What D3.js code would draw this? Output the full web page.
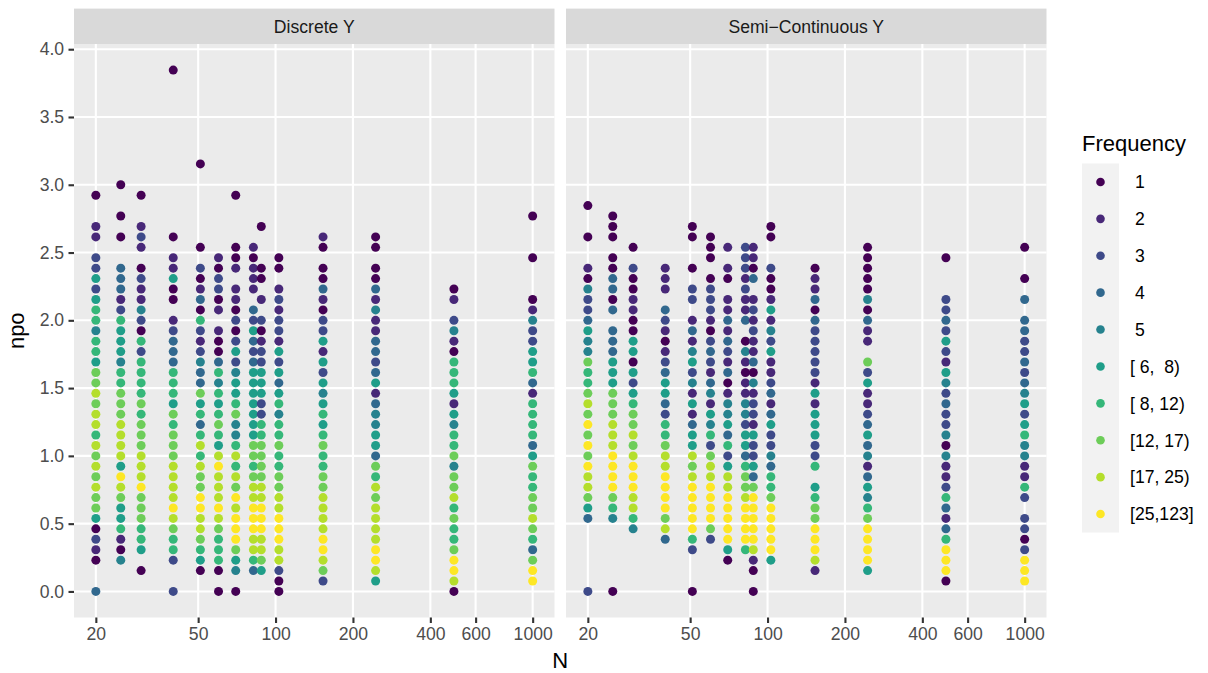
<!DOCTYPE html>
<html lang="en">
<head>
<meta charset="UTF-8" />
<title>npo by N</title>
<script src="https://cdn.jsdelivr.net/npm/d3@7"></script>
<style>
  body { margin: 0; background: #fff; }
  text { font-family: "Liberation Sans", Arial, Helvetica, sans-serif; }
</style>
</head>
<body>
<svg id="chart" width="1208" height="673"></svg>
<script>
// sample sizes (one column of points per N)
const nValues = [20, 25, 30, 40, 51, 60, 70, 82, 88, 103, 153, 245, 494, 1000];
const panelNames = ["Discrete Y", "Semi\u2212Continuous Y"];
const freqLabels = [" 1", " 2", " 3", " 4", " 5", "[ 6,  8)", "[ 8, 12)", "[12, 17)", "[17, 25)", "[25,123]"];
const freqColors = ["#440154", "#482878", "#3E4A89", "#31688E", "#26828E",
                    "#1F9E89", "#35B779", "#6DCD59", "#B4DE2C", "#FDE725"];
const xBreaks = [20, 50, 100, 200, 400, 600, 1000];
const yBreaks = [0, 0.5, 1, 1.5, 2, 2.5, 3, 3.5, 4];
const npoDenom = 13; // npo values sit on a 1/13 grid

// one string per N: first char = highest npo step, last char = npo 0
// '1'..'9','a' = frequency class, '.' = no point
const discreteCodes = [
  "1..22.336367757768898997989898861321..4",
  "1..1.1..44423766657788899996a98667215...",
  "1..232.132253173777787888999a888776.1..",
  "1...............1.22611.234447776878889999a98773..3",
  "1.......1.3124173235448674797988aa998761..",
  "213312.2114757678769a999a987771.1",
  "1....112.22131363566785579798a9aaa865.1",
  "21222.4364346666666887899aaa9974..",
  "1...11.2.312336663377888899aaa9986..",
  "11.2323326364675778778899aaa99311",
  "21.11421336263656767877889999aa983.",
  "11.114252244346245566487989999aa96.",
  "12.35217776265778588978778aa91",
  "1...1...12533667427777468778898748aa."
];
const semiCodes = [
  "1..1..215334655877898a8a8a99864......3",
  "111.114414.444666888999aaaa875......1",
  "1.3112211661636788989aaa9975......",
  "222.4321234664377899aaaa894.....",
  "11..1.33.2425635262466989aaaaa73...1",
  "111.13332134324526573899aaaa83.....",
  "2.21.2242432412556473699aaaaa61...",
  "33323224.1521225536647889aaaa7....",
  "2214.2323224152332633648aaaaa921.1",
  "11..31126253622342463354778aaaaa6...",
  "12241433333262666337.6788aaa92..",
  "1111151422.8362234645246578aaaa6..",
  "1...334363265343351522374247aaa1.",
  "1..1.4.443343456367552273.3313aaa."
];

function toPoints(codes) {
  const pts = [];
  codes.forEach((s, ci) => {
    const top = s.length - 1;
    for (let i = 0; i < s.length; i++) {
      if (s[i] === ".") continue;
      pts.push({ N: nValues[ci], npo: (top - i) / npoDenom, level: parseInt(s[i], 16) - 1 });
    }
  });
  return pts;
}
const panelData = [toPoints(discreteCodes), toPoints(semiCodes)];

const svg = d3.select("#chart");
const panelW = 480.5, panelTop = 44, panelBottom = 617.5, stripTop = 8.6;
const panelX = [74, 566];

// log x with 5% expansion like ggplot
const lx = d3.extent(nValues).map(Math.log10);
const px = (lx[1] - lx[0]) * 0.05;
const x = d3.scaleLog().domain([10 ** (lx[0] - px), 10 ** (lx[1] + px)]).range([0, panelW]);

const allNpo = panelData.flat().map(d => d.npo);
const yMax = d3.max(allNpo), yMin = d3.min(allNpo);
const py = (yMax - yMin) * 0.05;
const y = d3.scaleLinear().domain([yMin - py, yMax + py]).range([panelBottom, panelTop]);

panelData.forEach((pts, p) => {
  const g = svg.append("g").attr("transform", `translate(${panelX[p]},0)`);

  // strip
  g.append("rect").attr("x", 0).attr("y", stripTop)
    .attr("width", panelW).attr("height", panelTop - stripTop).attr("fill", "#D9D9D9");
  g.append("text").attr("x", panelW / 2).attr("y", (stripTop + panelTop) / 2)
    .attr("dy", "0.36em").attr("text-anchor", "middle")
    .attr("font-size", 17.6).attr("fill", "#1A1A1A").text(panelNames[p]);

  // panel background + grid
  g.append("rect").attr("x", 0).attr("y", panelTop)
    .attr("width", panelW).attr("height", panelBottom - panelTop).attr("fill", "#EBEBEB");
  g.selectAll(".gy").data(yBreaks).enter().append("line")
    .attr("x1", 0).attr("x2", panelW).attr("y1", d => y(d)).attr("y2", d => y(d))
    .attr("stroke", "#fff").attr("stroke-width", 2.1);
  g.selectAll(".gx").data(xBreaks).enter().append("line")
    .attr("x1", d => x(d)).attr("x2", d => x(d)).attr("y1", panelTop).attr("y2", panelBottom)
    .attr("stroke", "#fff").attr("stroke-width", 2.1);

  // points
  g.selectAll("circle").data(pts).enter().append("circle")
    .attr("cx", d => x(d.N)).attr("cy", d => y(d.npo)).attr("r", 4.5)
    .attr("fill", d => freqColors[d.level]);

  // x axis
  const xa = g.append("g").attr("transform", `translate(0,${panelBottom})`)
    .call(d3.axisBottom(x).tickValues(xBreaks).tickFormat(d3.format("d")).tickSize(5.5).tickPadding(4.4));
  xa.select(".domain").remove();
  xa.selectAll(".tick line").attr("stroke", "#333333").attr("stroke-width", 2.1);
  xa.selectAll(".tick text").attr("font-size", 17.6).attr("fill", "#4D4D4D")
    .attr("font-family", null).attr("dy", "0.74em");

  if (p === 0) {
    const ya = g.append("g")
      .call(d3.axisLeft(y).tickValues(yBreaks).tickFormat(d3.format(".1f")).tickSize(5.5).tickPadding(4.4));
    ya.select(".domain").remove();
    ya.selectAll(".tick line").attr("stroke", "#333333").attr("stroke-width", 2.1);
    ya.selectAll(".tick text").attr("font-size", 17.6).attr("fill", "#4D4D4D")
      .attr("font-family", null);
  }
});

// axis titles
svg.append("text").attr("x", (panelX[0] + panelX[1] + panelW) / 2).attr("y", 668)
  .attr("text-anchor", "middle").attr("font-size", 22).attr("fill", "#000").text("N");
svg.append("text").attr("transform", `translate(24,${(panelTop + panelBottom) / 2}) rotate(-90)`)
  .attr("text-anchor", "middle").attr("font-size", 22).attr("fill", "#000").text("npo");

// legend
const legX = 1082, keyW = 37, keyH = 36.9, keyTop = 163.5;
const leg = svg.append("g");
leg.append("text").attr("x", legX).attr("y", 151).attr("font-size", 22).attr("fill", "#000").text("Frequency");
leg.append("rect").attr("x", legX).attr("y", keyTop)
  .attr("width", keyW).attr("height", keyH * freqLabels.length).attr("fill", "#F2F2F2");
const items = leg.selectAll(".item").data(freqLabels).enter().append("g")
  .attr("transform", (d, i) => `translate(${legX},${keyTop + keyH * i + keyH / 2})`);
items.append("circle").attr("cx", keyW / 2).attr("cy", 0).attr("r", 4.3)
  .attr("fill", (d, i) => freqColors[i]);
items.append("text").attr("x", 48).attr("dy", "0.36em").attr("font-size", 17.6)
  .attr("fill", "#000").style("white-space", "pre").text(d => d);
</script>
</body>
</html>
